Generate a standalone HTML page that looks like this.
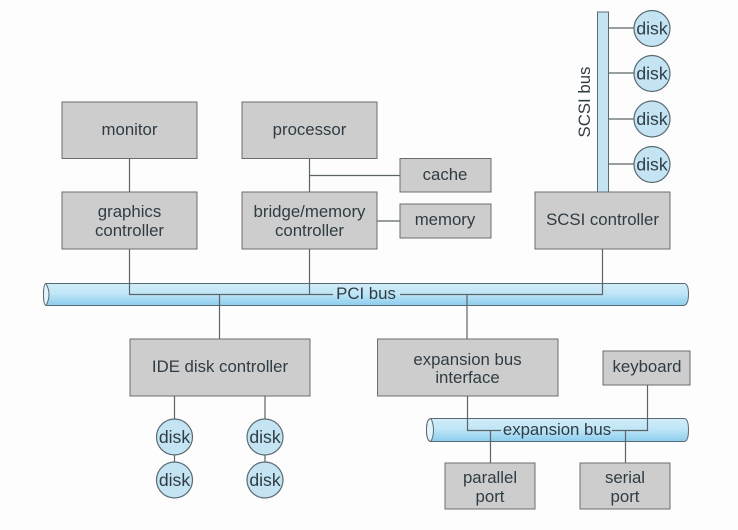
<!DOCTYPE html>
<html>
<head>
<meta charset="utf-8">
<style>
html,body{margin:0;padding:0;background:#fff}
svg{display:block}
text{font-family:"Liberation Sans",sans-serif;font-size:16.8px;fill:#303c44;text-anchor:middle}
text.k{font-size:17.6px}
.b{fill:#cdcdcd;stroke:#6d6d6d;stroke-width:1}
.l{fill:none;stroke:#5d6468;stroke-width:1.2}
.d{fill:#c4e4f3;stroke:#5a6a72;stroke-width:1.2}
.bus{stroke:#5a6a72;stroke-width:1}
</style>
</head>
<body>
<svg width="738" height="530" viewBox="0 0 738 530" xmlns="http://www.w3.org/2000/svg">
<defs>
<linearGradient id="g" x1="0" y1="0" x2="0" y2="1">
<stop offset="0" stop-color="#d2ecf8"/>
<stop offset="0.45" stop-color="#c0e6f7"/>
<stop offset="1" stop-color="#8ccdee"/>
</linearGradient>
</defs>
<rect width="738" height="530" fill="#fdfdfd"/>

<!-- PCI bus -->
<path class="bus" fill="url(#g)" d="M47 283.500H684Q688.500 283.500 688.500 294T684 305.500H47Q43.500 305.500 43.500 294.500T47 283.500Z"/>
<path class="bus" fill="#e4f3fa" d="M46 283.500Q43.500 284 43.500 294.500T46 305.500Q49 300 49 294.500T46 283.500Z"/>

<!-- Expansion bus -->
<path class="bus" fill="url(#g)" d="M431 418.500H684Q688.500 418.500 688.500 430T684 441.500H431Q426.500 441.500 426.500 430T431 418.500Z"/>
<path class="bus" fill="#e4f3fa" d="M431 418.500Q426.500 419 426.500 430T431 441.500Q433.500 436 433.500 430T431 418.500Z"/>

<!-- Connectors -->
<path class="l" d="M129.500 158V192M309.500 158V192M309.500 175.500H400M377 221H400"/>
<path class="l" d="M129.500 249V294.500H333M400 294.500H602.500V249M309.500 249V294.500M219.500 294.500V339M467 294.500V339"/>
<path class="l" d="M174.500 396V462M265 396V462"/>
<path class="l" d="M467.500 396V430.500H501M612 430.500H647.500V385M490.500 430.500V463M625.500 430.500V463"/>
<path class="l" d="M608 28H634M608 73H634M608 119H634M608 164H634"/>

<!-- SCSI bus -->
<rect x="597.500" y="12" width="11" height="180" fill="#c4e4f3" stroke="#5a6a72"/>

<!-- Boxes -->
<rect class="b" x="62" y="102" width="135" height="56.500"/>
<rect class="b" x="242" y="102" width="135" height="56.500"/>
<rect class="b" x="400" y="158.500" width="91" height="33.500"/>
<rect class="b" x="400" y="204" width="91" height="34"/>
<rect class="b" x="62" y="192" width="135" height="57"/>
<rect class="b" x="242" y="192" width="135" height="57"/>
<rect class="b" x="535" y="192" width="135" height="57"/>
<rect class="b" x="130" y="339" width="180" height="57"/>
<rect class="b" x="377.500" y="339" width="180.500" height="57"/>
<rect class="b" x="603" y="351" width="87" height="34"/>
<rect class="b" x="445" y="463" width="90" height="46"/>
<rect class="b" x="580" y="463" width="90" height="46"/>

<!-- Disks -->
<circle class="d" cx="652" cy="28.500" r="18"/>
<circle class="d" cx="652" cy="73.500" r="18"/>
<circle class="d" cx="652" cy="119" r="18"/>
<circle class="d" cx="652" cy="164.500" r="18"/>
<circle class="d" cx="174.500" cy="437" r="18"/>
<circle class="d" cx="174.500" cy="480" r="18"/>
<circle class="d" cx="265" cy="437" r="18"/>
<circle class="d" cx="265" cy="480" r="18"/>

<!-- Labels -->
<text x="129.500" y="135">monitor</text>
<text x="309.500" y="135">processor</text>
<text x="445" y="180">cache</text>
<text x="445" y="225">memory</text>
<text x="129.500" y="217">graphics</text>
<text x="129.500" y="236">controller</text>
<text x="309.500" y="217">bridge/memory</text>
<text x="309.500" y="236">controller</text>
<text x="602.500" y="225">SCSI controller</text>
<text x="220" y="372">IDE disk controller</text>
<text x="467.500" y="365">expansion bus</text>
<text x="467.500" y="383">interface</text>
<text x="647" y="372">keyboard</text>
<text x="490" y="483">parallel</text>
<text x="490" y="502">port</text>
<text x="625" y="483">serial</text>
<text x="625" y="502">port</text>
<text x="366" y="299">PCI bus</text>
<text x="557" y="435">expansion bus</text>
<text x="590" y="102" transform="rotate(-90 590 102)">SCSI bus</text>
<text class="k" x="652" y="34.500">disk</text>
<text class="k" x="652" y="79.500">disk</text>
<text class="k" x="652" y="125">disk</text>
<text class="k" x="652" y="170.500">disk</text>
<text class="k" x="174.500" y="443">disk</text>
<text class="k" x="174.500" y="486">disk</text>
<text class="k" x="265" y="443">disk</text>
<text class="k" x="265" y="486">disk</text>
</svg>
</body>
</html>
